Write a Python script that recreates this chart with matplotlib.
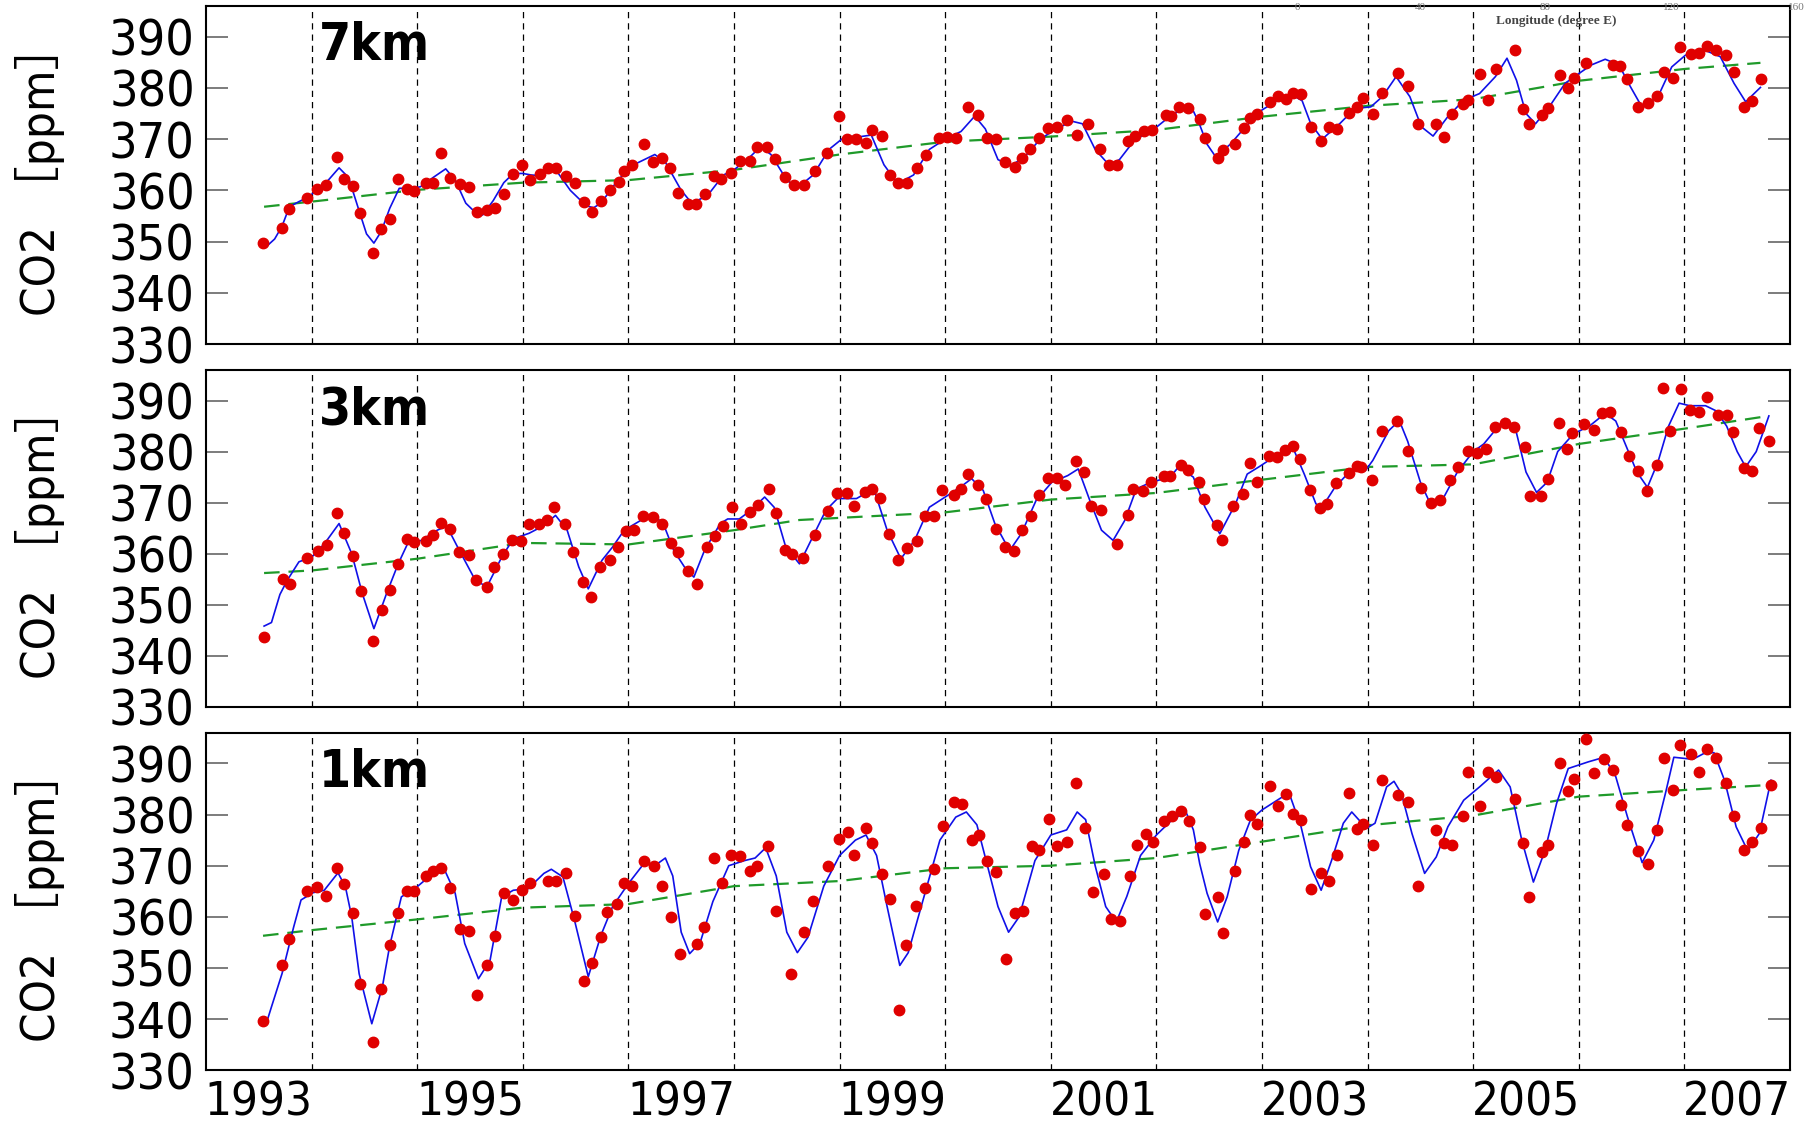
import matplotlib
matplotlib.use('Agg')
import matplotlib.pyplot as plt
import matplotlib.font_manager as fm

entries = fm.fontManager.ttflist
def has(name, stretch=None):
    return any(e.name == name and (stretch is None or e.stretch == stretch) for e in entries)

if has('Liberation Sans Narrow'):
    BASE, STRETCH = 'Liberation Sans Narrow', 'condensed'
elif has('Noto Sans Condensed'):
    BASE, STRETCH = 'Noto Sans Condensed', 'condensed'
elif has('Noto Sans', 'condensed'):
    BASE, STRETCH = 'Noto Sans', 'condensed'
else:
    BASE, STRETCH = 'DejaVu Sans', 'condensed'
plt.rcParams['font.family'] = [BASE, 'Noto Sans CJK JP', 'DejaVu Sans']
plt.rcParams['font.stretch'] = STRETCH

# ---------------- data ----------------
panel_labels = ['7km', '3km', '1km']
year_ticks = [1993, 1995, 1997, 1999, 2001, 2003, 2005, 2007]
ytick_vals = [330, 340, 350, 360, 370, 380, 390]

# 7 km observations
t7 = [1993.54, 1993.72, 1993.79, 1993.96, 1994.05, 1994.14, 1994.24, 1994.31, 1994.39, 1994.46,
      1994.58, 1994.66, 1994.74, 1994.82, 1994.90, 1994.97, 1995.08, 1995.15, 1995.23, 1995.31,
      1995.41, 1995.49, 1995.57, 1995.66, 1995.74, 1995.82, 1995.91, 1995.99, 1996.07, 1996.16,
      1996.24, 1996.31, 1996.41, 1996.49, 1996.58, 1996.66, 1996.74, 1996.83, 1996.91, 1996.96,
      1997.03, 1997.15, 1997.23, 1997.32, 1997.39, 1997.47, 1997.56, 1997.64, 1997.73, 1997.81,
      1997.88, 1997.97, 1998.06, 1998.15, 1998.22, 1998.31, 1998.39, 1998.48, 1998.57, 1998.66,
      1998.77, 1998.88, 1998.99, 1999.07, 1999.16, 1999.25, 1999.31, 1999.40, 1999.48, 1999.55,
      1999.64, 1999.73, 1999.82, 1999.94, 2000.02, 2000.10, 2000.22, 2000.31, 2000.40, 2000.48,
      2000.57, 2000.66, 2000.73, 2000.80, 2000.89, 2000.97, 2001.06, 2001.15, 2001.25, 2001.35,
      2001.47, 2001.55, 2001.63, 2001.73, 2001.80, 2001.88, 2001.96, 2002.09, 2002.14, 2002.21,
      2002.30, 2002.41, 2002.46, 2002.58, 2002.63, 2002.74, 2002.83, 2002.89, 2002.95, 2003.08,
      2003.15, 2003.23, 2003.29, 2003.37, 2003.46, 2003.56, 2003.63, 2003.71, 2003.82, 2003.90,
      2003.96, 2004.05, 2004.14, 2004.29, 2004.38, 2004.48, 2004.65, 2004.72, 2004.80, 2004.90,
      2004.95, 2005.06, 2005.14, 2005.22, 2005.40, 2005.47, 2005.53, 2005.65, 2005.71, 2005.82,
      2005.90, 2005.95, 2006.07, 2006.32, 2006.39, 2006.46, 2006.56, 2006.66, 2006.74, 2006.81,
      2006.89, 2006.96, 2007.06, 2007.14, 2007.21, 2007.30, 2007.39, 2007.47, 2007.56, 2007.64,
      2007.73]
c7 = [349.8, 352.7, 356.4, 358.5, 360.2, 361.1, 366.5, 362.2, 360.9, 355.5,
      347.7, 352.5, 354.4, 362.2, 360.3, 359.8, 361.4, 361.4, 367.2, 362.4,
      361.3, 360.7, 355.8, 356.1, 356.6, 359.2, 363.1, 365.0, 362.0, 363.1,
      364.4, 364.3, 362.8, 361.5, 357.7, 355.7, 357.9, 360.0, 361.6, 363.8,
      364.9, 369.0, 365.6, 366.3, 364.3, 359.5, 357.3, 357.3, 359.3, 362.9,
      362.3, 363.4, 365.8, 365.8, 368.5, 368.5, 366.1, 362.7, 361.1, 361.1,
      363.8, 367.2, 374.6, 370.1, 370.1, 369.2, 371.7, 370.6, 363.0, 361.5,
      361.5, 364.3, 367.0, 370.3, 370.5, 370.3, 376.3, 374.8, 370.3, 370.1,
      365.6, 364.5, 366.3, 368.0, 370.3, 372.1, 372.3, 373.8, 370.8, 373.0,
      368.0, 365.0, 365.0, 369.6, 370.6, 371.5, 371.8, 374.8, 374.5, 376.3,
      376.0, 373.9, 370.3, 366.4, 367.9, 369.1, 372.1, 374.1, 375.0, 377.3,
      378.4, 377.8, 379.1, 378.8, 372.4, 369.6, 372.3, 372.0, 375.2, 376.2,
      378.0, 374.9, 379.0, 383.0, 380.3, 372.9, 373.0, 370.4, 374.9, 376.9,
      377.7, 382.7, 377.6, 383.7, 387.4, 375.9, 373.0, 374.7, 376.1, 382.5,
      380.0, 381.9, 384.8, 384.5, 384.2, 381.7, 376.3, 377.0, 378.4, 383.2,
      381.9, 388.0, 386.7, 386.9, 388.2, 387.4, 386.4, 383.1, 376.3, 377.5,
      381.7]
# 7 km fitted curve
f7_t = [1993.57, 1993.65, 1993.72, 1993.79, 1993.88, 1993.96, 1994.05, 1994.15, 1994.26, 1994.35,
        1994.45, 1994.52, 1994.59, 1994.66, 1994.74, 1994.83, 1994.96, 1995.03, 1995.15, 1995.27,
        1995.36, 1995.46, 1995.56, 1995.62, 1995.72, 1995.82, 1995.91, 1996.0, 1996.08, 1996.16,
        1996.27, 1996.33, 1996.45, 1996.6, 1996.67, 1996.74, 1996.9, 1997.05, 1997.25, 1997.35,
        1997.5, 1997.6, 1997.75, 1997.9, 1998.0, 1998.15, 1998.25, 1998.35, 1998.5, 1998.6,
        1998.75, 1998.9, 1999.05, 1999.2, 1999.3, 1999.42, 1999.55, 1999.7, 1999.85, 2000.0,
        2000.15, 2000.28, 2000.38, 2000.5, 2000.62, 2000.75, 2000.9, 2001.05, 2001.2, 2001.3,
        2001.42, 2001.55, 2001.65, 2001.8, 2001.95, 2002.1, 2002.25, 2002.35, 2002.41, 2002.48,
        2002.56, 2002.7, 2002.83, 2003.0, 2003.15, 2003.29, 2003.38, 2003.46, 2003.57, 2003.74,
        2003.88, 2004.03, 2004.14, 2004.27, 2004.40, 2004.51, 2004.62, 2004.76, 2004.91, 2005.06,
        2005.21, 2005.32, 2005.41, 2005.50, 2005.59, 2005.72, 2005.87, 2006.0, 2006.12, 2006.25,
        2006.38, 2006.49, 2006.60, 2006.75, 2006.88, 2007.01, 2007.19, 2007.34, 2007.47, 2007.58,
        2007.72]
f7_v = [349.0, 350.5, 353.0, 356.8, 357.8, 358.6, 360.0, 361.8, 364.4, 362.5,
        356.0, 351.5, 349.7, 352.0, 356.5, 360.4, 360.4, 360.7, 362.5, 364.2,
        362.0, 357.5, 355.5, 355.2, 358.0, 361.5, 363.3, 363.3, 363.0, 362.9,
        364.1, 363.5, 360.0, 357.0, 356.6, 357.5, 362.0, 365.0, 367.0, 365.5,
        360.0, 357.5, 359.0, 363.0, 364.0, 366.5, 368.5, 367.0, 362.0, 360.5,
        363.0, 368.0, 370.5, 370.5, 370.8, 365.0, 361.3, 363.0, 368.0, 370.0,
        371.5, 374.5, 372.0, 366.0, 364.8, 366.5, 370.0, 372.0, 373.5, 373.0,
        368.0, 365.0, 366.0, 370.0, 371.5, 374.0, 376.0, 375.5, 372.8, 369.0,
        366.6, 369.0, 372.1, 375.7, 377.6, 378.6, 377.5, 373.1, 370.0, 373.1,
        376.0, 376.3, 378.3, 382.2, 378.3, 372.4, 370.6, 374.4, 377.6, 378.9,
        382.2, 385.8, 381.5, 375.0, 373.0, 376.3, 380.9, 382.8, 384.5, 385.6,
        384.5, 380.2, 376.2, 378.3, 384.1, 386.4, 387.4, 386.1, 380.9, 377.3,
        380.1]
# 7 km long-term trend
r7_t = [1993.55, 1994, 1995, 1996, 1997, 1998, 1999, 2000, 2001, 2002, 2003, 2004, 2005, 2006, 2007, 2007.72]
r7_v = [356.8, 357.8, 360.1, 361.5, 362.0, 364.0, 367.0, 369.5, 370.5, 371.8, 374.4, 376.5, 377.8, 381.4, 383.7, 384.9]

# 3 km observations
t3 = [1993.55, 1993.73, 1993.80, 1993.96, 1994.06, 1994.15, 1994.24, 1994.31, 1994.39, 1994.47,
      1994.58, 1994.67, 1994.74, 1994.82, 1994.90, 1994.97, 1995.08, 1995.15, 1995.23, 1995.31,
      1995.40, 1995.49, 1995.56, 1995.66, 1995.73, 1995.81, 1995.90, 1995.98, 1996.06, 1996.15,
      1996.23, 1996.30, 1996.40, 1996.48, 1996.57, 1996.65, 1996.73, 1996.83, 1996.90, 1996.98,
      1997.05, 1997.14, 1997.23, 1997.32, 1997.40, 1997.47, 1997.56, 1997.65, 1997.74, 1997.82,
      1997.90, 1997.98, 1998.07, 1998.15, 1998.23, 1998.33, 1998.40, 1998.48, 1998.55, 1998.65,
      1998.77, 1998.89, 1998.98, 1999.07, 1999.14, 1999.24, 1999.31, 1999.38, 1999.47, 1999.55,
      1999.64, 1999.73, 1999.81, 1999.89, 1999.97, 2000.08, 2000.15, 2000.22, 2000.31, 2000.39,
      2000.48, 2000.57, 2000.65, 2000.73, 2000.81, 2000.89, 2000.97, 2001.06, 2001.13, 2001.24,
      2001.31, 2001.38, 2001.48, 2001.63, 2001.73, 2001.78, 2001.87, 2001.95, 2002.07, 2002.13,
      2002.23, 2002.30, 2002.40, 2002.45, 2002.57, 2002.62, 2002.73, 2002.82, 2002.89, 2002.95,
      2003.07, 2003.14, 2003.22, 2003.29, 2003.36, 2003.45, 2003.55, 2003.62, 2003.70, 2003.82,
      2003.90, 2003.94, 2004.04, 2004.14, 2004.28, 2004.38, 2004.51, 2004.60, 2004.69, 2004.78,
      2004.86, 2004.95, 2005.04, 2005.12, 2005.21, 2005.30, 2005.39, 2005.49, 2005.54, 2005.64,
      2005.71, 2005.81, 2005.89, 2005.94, 2006.05, 2006.14, 2006.22, 2006.30, 2006.40, 2006.48,
      2006.56, 2006.65, 2006.74, 2006.80, 2006.86, 2006.97, 2007.05, 2007.14, 2007.21, 2007.32,
      2007.40, 2007.46, 2007.56, 2007.64, 2007.71, 2007.80]
c3 = [343.7, 355.0, 354.0, 359.2, 360.6, 361.7, 368.0, 364.1, 359.5, 352.7,
      342.8, 348.9, 352.8, 357.9, 362.8, 362.2, 362.5, 363.6, 366.1, 364.9,
      360.4, 359.7, 354.8, 353.4, 357.3, 359.9, 362.6, 362.4, 365.9, 365.9,
      366.5, 369.1, 365.9, 360.4, 354.4, 351.5, 357.4, 358.8, 361.4, 364.4,
      364.7, 367.3, 367.1, 365.9, 362.0, 360.4, 356.6, 354.1, 361.4, 363.5,
      365.4, 369.1, 365.9, 368.1, 369.5, 372.6, 368.0, 360.8, 359.9, 359.1,
      363.6, 368.4, 371.9, 371.9, 369.3, 372.1, 372.6, 371.0, 363.8, 358.8,
      361.2, 362.5, 367.3, 367.4, 372.4, 371.4, 372.6, 375.6, 373.5, 370.8,
      364.9, 361.3, 360.6, 364.6, 367.3, 371.5, 374.9, 374.9, 373.5, 378.2,
      376.1, 369.3, 368.6, 361.9, 367.5, 372.7, 372.3, 374.1, 375.2, 375.3,
      377.4, 376.4, 374.1, 370.8, 365.7, 362.6, 369.3, 371.6, 377.8, 374.1,
      379.2, 379.0, 380.3, 381.1, 378.5, 372.4, 368.9, 369.8, 373.9, 375.9,
      377.1, 377.0, 374.5, 384.1, 386.0, 380.1, 372.9, 370.0, 370.6, 374.4,
      376.9, 380.1, 379.8, 380.5, 384.8, 385.7, 384.8, 381.0, 371.3, 371.3,
      374.6, 385.7, 380.5, 383.7, 385.5, 384.3, 387.5, 387.7, 383.9, 379.2,
      376.2, 372.2, 377.4, 392.5, 384.1, 392.3, 388.2, 387.7, 390.7, 387.1,
      387.1, 383.9, 376.7, 376.2, 384.6, 382.1]
f3_t = [1993.55, 1993.62, 1993.70, 1993.77, 1993.88, 1994.0, 1994.12, 1994.26, 1994.38, 1994.48,
        1994.59, 1994.71, 1994.82, 1994.91, 1995.04, 1995.19, 1995.28, 1995.40, 1995.55, 1995.66,
        1995.80, 1995.91, 1996.06, 1996.20, 1996.31, 1996.42, 1996.53, 1996.62, 1996.75, 1996.85,
        1996.96, 1997.14, 1997.25, 1997.33, 1997.43, 1997.54, 1997.62, 1997.72, 1997.87, 1997.94,
        1998.05, 1998.16, 1998.29, 1998.38, 1998.49, 1998.62, 1998.76, 1998.87, 1998.98, 1999.16,
        1999.27, 1999.34, 1999.45, 1999.58, 1999.71, 1999.85, 2000.0, 2000.14, 2000.25, 2000.36,
        2000.47, 2000.61, 2000.72, 2000.86, 2001.01, 2001.16, 2001.26, 2001.37, 2001.48, 2001.59,
        2001.70, 2001.81, 2001.95, 2002.13, 2002.21, 2002.35, 2002.46, 2002.60, 2002.75, 2002.86,
        2002.97, 2003.11, 2003.29, 2003.40, 2003.51, 2003.56, 2003.69, 2003.84, 2003.98, 2004.05,
        2004.20, 2004.30, 2004.38, 2004.50, 2004.60, 2004.72, 2004.85, 2005.0, 2005.1, 2005.3,
        2005.4, 2005.5, 2005.6, 2005.7, 2005.8, 2005.95, 2006.1, 2006.25, 2006.35, 2006.45,
        2006.55, 2006.65, 2006.75, 2006.85, 2006.95, 2007.05, 2007.2, 2007.3, 2007.4, 2007.5,
        2007.58, 2007.68, 2007.8]
f3_v = [345.8, 346.5, 352.0, 354.8, 358.4, 359.3, 361.9, 365.9, 360.0, 352.2,
        345.3, 352.2, 358.0, 362.0, 362.6, 364.6, 365.4, 360.6, 354.8, 353.5,
        359.3, 362.9, 364.0, 365.5, 367.5, 364.6, 357.4, 353.1, 358.7, 361.3,
        364.6, 366.8, 367.3, 365.9, 360.6, 357.1, 355.4, 360.6, 365.9, 366.8,
        366.8, 368.5, 371.1, 369.1, 361.3, 358.0, 363.9, 368.5, 370.8, 370.8,
        372.1, 371.7, 364.6, 359.0, 362.6, 369.1, 371.1, 373.0, 374.7, 372.4,
        365.9, 360.6, 363.9, 370.4, 374.0, 375.3, 376.6, 370.4, 364.6, 362.6,
        366.5, 372.7, 374.0, 375.0, 377.0, 375.0, 369.1, 363.9, 369.8, 375.6,
        377.0, 378.9, 380.9, 375.6, 369.8, 368.8, 373.0, 376.3, 376.3, 378.3,
        384.1, 386.1, 382.0, 374.0, 369.5, 371.0, 376.0, 380.0, 381.5, 386.5,
        384.5, 376.0, 372.0, 374.0, 380.0, 383.5, 385.0, 387.5, 386.0, 381.0,
        376.0, 373.0, 378.0, 385.0, 389.5, 389.0, 389.0, 388.0, 385.0, 380.0,
        377.0, 380.0, 387.0]
r3_t = [1993.55, 1994, 1995, 1996, 1997, 1998, 1998.62, 2000, 2001, 2002, 2003, 2004, 2005, 2006, 2007, 2007.8]
r3_v = [356.2, 356.7, 359.0, 362.1, 361.8, 364.6, 366.6, 368.1, 370.6, 371.9, 374.5, 377.0, 377.5, 381.5, 384.5, 387.0]

# 1 km observations
t1 = [1993.54, 1993.72, 1993.79, 1993.96, 1994.05, 1994.14, 1994.24, 1994.31, 1994.39, 1994.46,
      1994.58, 1994.66, 1994.74, 1994.82, 1994.90, 1994.97, 1995.08, 1995.15, 1995.23, 1995.31,
      1995.41, 1995.49, 1995.57, 1995.66, 1995.74, 1995.82, 1995.91, 1995.99, 1996.07, 1996.24,
      1996.31, 1996.41, 1996.49, 1996.58, 1996.66, 1996.74, 1996.80, 1996.89, 1996.96, 1997.03,
      1997.15, 1997.24, 1997.32, 1997.40, 1997.49, 1997.65, 1997.72, 1997.81, 1997.89, 1997.97,
      1998.06, 1998.15, 1998.22, 1998.32, 1998.40, 1998.54, 1998.66, 1998.75, 1998.89, 1998.99,
      1999.08, 1999.14, 1999.25, 1999.31, 1999.40, 1999.48, 1999.56, 1999.63, 1999.72, 1999.81,
      1999.89, 1999.98, 2000.08, 2000.16, 2000.25, 2000.32, 2000.40, 2000.48, 2000.58, 2000.66,
      2000.74, 2000.82, 2000.89, 2000.98, 2001.06, 2001.15, 2001.24, 2001.32, 2001.40, 2001.50,
      2001.57, 2001.66, 2001.75, 2001.82, 2001.90, 2001.97, 2002.07, 2002.15, 2002.23, 2002.31,
      2002.41, 2002.46, 2002.58, 2002.63, 2002.74, 2002.83, 2002.89, 2002.95, 2003.08, 2003.15,
      2003.23, 2003.29, 2003.37, 2003.46, 2003.56, 2003.63, 2003.71, 2003.82, 2003.90, 2003.96,
      2004.05, 2004.14, 2004.29, 2004.38, 2004.48, 2004.65, 2004.72, 2004.80, 2004.90, 2004.95,
      2005.06, 2005.14, 2005.22, 2005.40, 2005.47, 2005.53, 2005.65, 2005.71, 2005.82, 2005.90,
      2005.95, 2006.07, 2006.14, 2006.24, 2006.32, 2006.40, 2006.46, 2006.56, 2006.66, 2006.74,
      2006.81, 2006.89, 2006.96, 2007.06, 2007.14, 2007.21, 2007.30, 2007.39, 2007.47, 2007.56,
      2007.64, 2007.73, 2007.82]
c1 = [339.6, 350.5, 355.6, 365.0, 365.9, 364.1, 369.5, 366.5, 360.8, 346.8,
      335.5, 345.8, 354.5, 360.8, 365.0, 365.0, 368.0, 368.9, 369.6, 365.7,
      357.7, 357.3, 344.8, 350.5, 356.3, 364.6, 363.2, 365.3, 366.6, 367.1,
      367.1, 368.5, 360.2, 347.5, 350.9, 356.1, 361.0, 362.5, 366.6, 366.0,
      371.0, 370.0, 366.0, 360.0, 352.7, 354.6, 358.0, 371.6, 366.6, 372.0,
      371.8, 369.0, 370.0, 373.8, 361.2, 348.8, 357.0, 363.0, 370.0, 375.2,
      376.5, 372.0, 377.4, 374.4, 368.3, 363.4, 341.8, 354.4, 362.1, 365.7,
      369.3, 377.8, 382.5, 382.1, 375.1, 376.0, 371.0, 368.8, 351.7, 360.7,
      361.2, 373.8, 373.1, 379.2, 373.8, 374.7, 386.2, 377.4, 364.8, 368.4,
      359.6, 359.1, 367.9, 374.0, 376.2, 374.7, 378.7, 379.8, 380.7, 378.7,
      373.7, 360.6, 363.9, 356.9, 368.9, 374.7, 379.9, 378.2, 385.6, 381.6,
      384.0, 380.2, 379.0, 365.5, 368.5, 367.1, 372.0, 384.3, 377.2, 378.1,
      374.0, 386.7, 383.9, 382.5, 366.0, 377.0, 374.5, 374.0, 379.8, 388.4,
      381.7, 388.4, 387.3, 383.0, 374.5, 363.9, 372.6, 374.0, 390.0, 384.7,
      387.0, 394.8, 388.2, 390.9, 388.8, 381.8, 378.0, 372.8, 370.4, 376.9,
      391.1, 384.8, 393.5, 391.9, 388.4, 392.9, 391.1, 386.2, 379.8, 373.1,
      374.7, 377.3, 385.8]
f1_t = [1993.57, 1993.62, 1993.72, 1993.83, 1993.90, 1994.01, 1994.12, 1994.25, 1994.32, 1994.38,
        1994.45, 1994.57, 1994.67, 1994.74, 1994.85, 1995.0, 1995.11, 1995.25, 1995.36, 1995.45,
        1995.58, 1995.69, 1995.80, 1995.91, 1996.05, 1996.20, 1996.27, 1996.38, 1996.49, 1996.62,
        1996.74, 1996.85, 1997.0, 1997.15, 1997.25, 1997.35, 1997.42, 1997.5, 1997.58, 1997.68,
        1997.8, 1997.95, 1998.1, 1998.2, 1998.3, 1998.4, 1998.5, 1998.6, 1998.7, 1998.85,
        1999.0, 1999.15, 1999.25, 1999.35, 1999.45, 1999.57, 1999.65, 1999.8, 1999.95, 2000.1,
        2000.2, 2000.3, 2000.4, 2000.5, 2000.6, 2000.7, 2000.85, 2001.0, 2001.15, 2001.25,
        2001.33, 2001.42, 2001.52, 2001.62, 2001.72, 2001.85, 2002.0, 2002.15, 2002.28, 2002.35,
        2002.41, 2002.48, 2002.58, 2002.67, 2002.78, 2002.89, 2003.0, 2003.22, 2003.26, 2003.37,
        2003.46, 2003.56, 2003.66, 2003.77, 2003.85, 2003.92, 2003.99, 2004.07, 2004.18, 2004.25,
        2004.32, 2004.42, 2004.54, 2004.65, 2004.76, 2004.91, 2005.06, 2005.24, 2005.35, 2005.46,
        2005.57, 2005.68, 2005.79, 2005.90, 2006.09, 2006.24, 2006.35, 2006.46, 2006.60, 2006.71,
        2006.82, 2006.90, 2007.08, 2007.19, 2007.28, 2007.38, 2007.49, 2007.60, 2007.71, 2007.82]
f1_v = [339.1, 342.4, 348.9, 358.0, 363.3, 364.7, 365.2, 368.6, 365.9, 360.0,
        348.9, 339.1, 346.3, 354.4, 363.9, 365.9, 367.8, 369.6, 364.6, 354.8,
        347.9, 351.5, 363.9, 365.2, 365.5, 368.5, 369.3, 367.8, 359.3, 348.3,
        356.4, 362.0, 366.5, 370.5, 370.0, 371.5, 368.0, 357.0, 352.8, 355.0,
        363.0, 370.0, 371.0, 371.5, 373.5, 368.0, 357.0, 353.0, 356.0, 366.0,
        372.0, 375.0, 376.0, 372.0, 362.0, 350.5, 353.0, 364.0, 375.0, 379.5,
        380.5, 378.0, 370.0, 362.0, 357.0, 360.0, 371.0, 376.0, 377.0, 380.5,
        379.0, 370.0, 362.0, 359.0, 364.0, 372.0, 376.0, 379.0, 380.5, 377.0,
        370.4, 364.6, 359.0, 363.9, 373.0, 378.9, 380.9, 383.8, 384.0, 377.6,
        369.8, 365.2, 371.1, 378.3, 380.5, 378.9, 377.3, 378.3, 385.4, 386.5,
        384.1, 376.3, 368.5, 371.7, 377.6, 382.8, 385.4, 388.7, 385.4, 375.0,
        366.8, 373.0, 382.2, 389.0, 390.3, 391.2, 387.4, 379.6, 370.6, 375.0,
        384.1, 391.2, 390.8, 392.0, 392.1, 386.7, 377.6, 372.9, 376.3, 386.7]
r1_t = [1993.54, 1994, 1995, 1996, 1997, 1998, 1999, 2000, 2001, 2002, 2003, 2004, 2005, 2006, 2007, 2007.82]
r1_v = [356.3, 357.4, 359.5, 361.8, 362.5, 366.0, 367.0, 369.5, 370.0, 371.5, 374.7, 377.9, 379.8, 383.5, 384.8, 385.8]

# stray longitude axis text from an overlapping figure (top right)
lon_labels = ['0', '40', '80', '120', '160']

# ---------------- figure ----------------
W, H = 1808, 1124
fig = plt.figure(figsize=(W / 100, H / 100), dpi=100)

tops_px = [6, 370, 732.7]
bots_px = [344, 706.7, 1070.3]
left_px, right_px = 206, 1790

series = [(t7, c7, f7_t, f7_v, r7_t, r7_v),
          (t3, c3, f3_t, f3_v, r3_t, r3_v),
          (t1, c1, f1_t, f1_v, r1_t, r1_v)]

TICK_FS = 36
XT_FS = 34
for i, (tp, bp) in enumerate(zip(tops_px, bots_px)):
    ax = fig.add_axes([left_px / W, 1 - bp / H, (right_px - left_px) / W, (bp - tp) / H])
    tt, cc, ft, fv, rt, rv = series[i]
    for yr in range(1994, 2008):
        ax.axvline(yr, color='black', lw=0.9, ls=(0, (5, 4)), zorder=1)
    ax.plot(rt, rv, color='#1f9a2a', lw=1.6, ls=(0, (7, 4)), zorder=2)
    ax.plot(ft, fv, color='#1010e8', lw=1.2, zorder=3, solid_joinstyle='round')
    ax.plot(tt, cc, 'o', color='#e00000', ms=7.5, mec='#e00000', zorder=4)
    ax.set_xlim(1993, 2008)
    ax.set_ylim(330, 396)
    ax.set_yticks(ytick_vals)
    ax.tick_params(axis='y', direction='in', length=16, width=1.2, color='#666666',
                   left=True, right=True, labelsize=TICK_FS, pad=8)
    ax.set_xticks([y + 0.5 for y in year_ticks])
    if i == 2:
        ax.set_xticklabels([str(y) for y in year_ticks])
    else:
        ax.set_xticklabels([])
    ax.tick_params(axis='x', length=0, labelsize=XT_FS, pad=7)
    for s in ax.spines.values():
        s.set_linewidth(1.5)
        s.set_color('black')
    ax.text(0.071, 0.955, panel_labels[i], transform=ax.transAxes, fontsize=37,
            fontweight='bold', ha='left', va='top', zorder=5)
    ymid = (tp + bp) / 2 - 6
    fig.text(40 / W, 1 - ymid / H, 'CO2 ［ppm］', rotation=90, ha='center', va='center',
             fontsize=34)

lon_px = [1297, 1420, 1545, 1671, 1796]
for lab, xp in zip(lon_labels, lon_px):
    fig.text(xp / W, 1 - 8 / H, lab, ha='center', va='center', fontsize=8,
             family='Liberation Serif', color='#777777')
fig.text(1556 / W, 1 - 21 / H, 'Longitude (degree E)', ha='center', va='center', fontsize=9.5,
         family='Liberation Serif', color='#444444', fontweight='bold')

fig.savefig('out.png', dpi=100)
